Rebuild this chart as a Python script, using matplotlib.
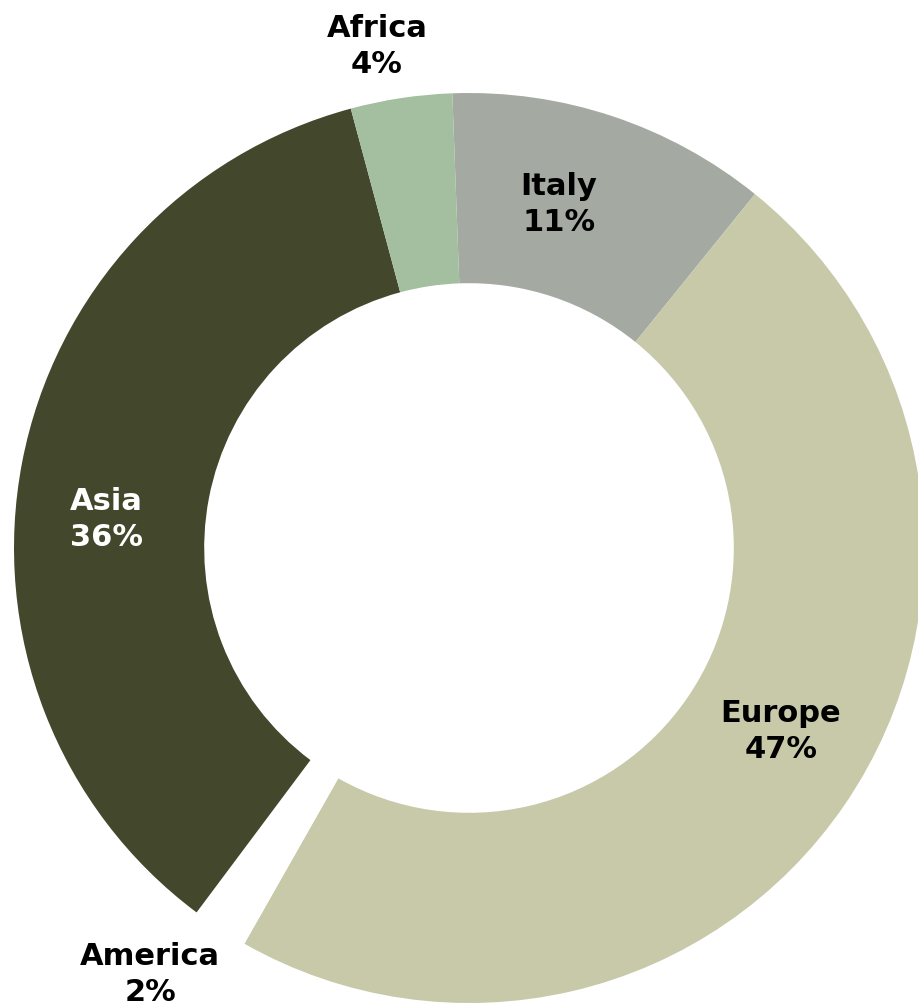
"""Donut: share by region."""

import numpy as np
import matplotlib
matplotlib.use("Agg")
import matplotlib.pyplot as plt

regions = ["Italy", "Europe", "America", "Asia", "Africa"]
shares = [11.4, 47.4, 2.0, 35.6, 3.6]
colors = ["#a4aaa1", "#c7c9a9", "#ffffff", "#43472c", "#a3bf9f"]
text_colors = ["black", "black", "black", "white", "black"]

# label anchors: (angle in degrees, radius)
label_pos = [(75.3, 0.78), (-30.5, 0.795), (-126.8, 1.17), (175.5, 0.80), (100.4, 1.12)]

fig = plt.figure(figsize=(9.18, 10.06), dpi=100)
ax = fig.add_axes([0, 0, 1, 1])

ax.pie(
    shares,
    colors=colors,
    startangle=92.1,
    counterclock=False,
    radius=1.0,
    wedgeprops=dict(width=0.418, linewidth=0),
)

for name, val, tc, (ang, r) in zip(regions, shares, text_colors, label_pos):
    a = np.deg2rad(ang)
    ax.text(
        r * np.cos(a), r * np.sin(a), f"{name}\n{val:.0f}%",
        ha="center", va="center", color=tc,
        fontsize=22, fontweight="bold", family="DejaVu Sans",
        linespacing=1.32,
    )

ax.set_xlim(-469 / 455, (918 - 469) / 455)
ax.set_ylim(-(1006 - 548) / 455, 548 / 455)
ax.set_aspect("equal")
ax.axis("off")

fig.savefig("out.png", dpi=100)
